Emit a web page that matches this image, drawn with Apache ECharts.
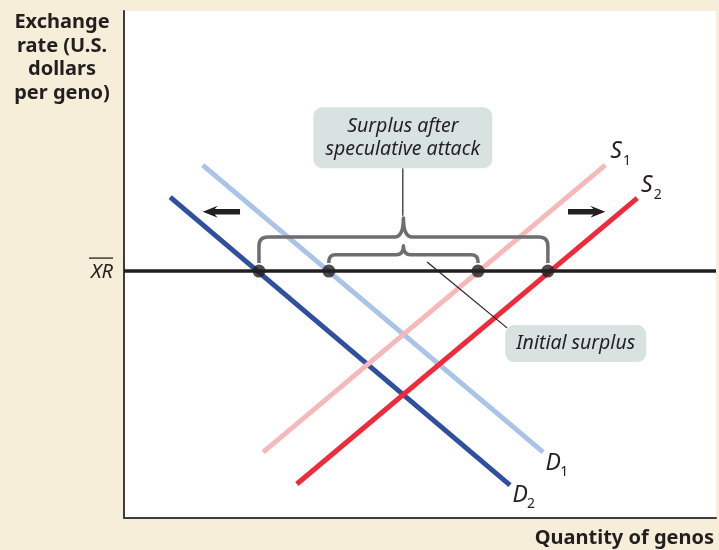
<!DOCTYPE html>
<html>
<head>
<meta charset="utf-8">
<script src="https://cdn.jsdelivr.net/npm/echarts@6/dist/echarts.min.js"></script>
<style>
  html, body { margin: 0; padding: 0; background: #f6eed9; }
  #chart { width: 719px; height: 550px; }
</style>
</head>
<body>
<div id="chart"></div>
<script>
// Chart units: x = quantity of genos (0-100), y = exchange rate (0-100)
const curveNames = ['D2', 'D1', 'S1', 'S2'];
const curveColors = ['#2f4f9f', '#a9c4e7', '#f6b9ba', '#ee2a3b'];
const curveX = [[7.8, 65.2], [13.3, 70.8], [23.5, 81.3], [29.2, 86.7]];
const curveY = [[63.3, 6.5], [69.6, 13.0], [13.0, 69.6], [6.7, 63.1]];
const curveLabelX = [66.9, 72.5, 83.1, 88.3];
const curveLabelY = [4.5, 10.8, 72.2, 65.5];

// fixed exchange rate and the points where it meets each curve
const fixedRate = 48.7;
const dotX = [22.8, 34.6, 59.8, 71.6];

// braces: outer = surplus after attack, inner = initial surplus
const braceLeft = [22.8, 34.6];
const braceRight = [71.6, 59.8];
const braceLevel = [55.4, 51.9];

// arrows showing the shift of the curves
const arrowFrom = [19.6, 75.0];
const arrowTo = [13.3, 81.3];
const arrowY = [60.4, 60.4];

// callout boxes
const boxText = ['Surplus after\nspeculative attack', 'Initial surplus'];
const boxX = [47.1, 76.3];
const boxY = [75.0, 34.4];
const leaderX = [[47.1, 47.1], [51.2, 64.7]];
const leaderY = [[69.0, 59.6], [50.5, 37.5]];

const ink = '#231f20';
const italicFont = 'italic 19.5px "Noto Sans"';
const titleFont = 'bold 20px "Noto Sans"';

const chart = echarts.init(document.getElementById('chart'));

const series = [];

// supply and demand curves
curveNames.forEach((name, i) => {
  series.push({
    name: name,
    type: 'line',
    data: [[curveX[i][0], curveY[i][0]], [curveX[i][1], curveY[i][1]]],
    symbol: 'none',
    lineStyle: { color: curveColors[i], width: 5 },
    z: 2
  });
});

// fixed exchange rate line
series.push({
  type: 'line',
  data: [[0, fixedRate], [100, fixedRate]],
  symbol: 'none',
  lineStyle: { color: ink, width: 3.5 },
  z: 3
});

// leader lines for the callouts
leaderX.forEach((xs, i) => {
  series.push({
    type: 'line',
    data: [[xs[0], leaderY[i][0]], [xs[1], leaderY[i][1]]],
    symbol: 'none',
    lineStyle: { color: ink, width: 1.2 },
    z: 4
  });
});

// intersection dots
series.push({
  type: 'scatter',
  data: dotX.map(x => [x, fixedRate]),
  symbolSize: 13,
  itemStyle: { color: ink },
  z: 6
});

// braces
series.push({
  type: 'custom',
  data: braceLeft.map((x, i) => [x, braceRight[i], braceLevel[i]]),
  renderItem: function (params, api) {
    const outer = params.dataIndex === 0;
    const l = api.coord([api.value(0), api.value(2)]);
    const r = api.coord([api.value(1), api.value(2)]);
    const yEnd = api.coord([0, fixedRate])[1] - 8;
    const yH = l[1];
    const xc = (l[0] + r[0]) / 2;
    const rad = outer ? 9 : 7;
    const peak = outer ? 19 : 9;
    const x0 = l[0], x1 = r[0];
    const path = 'M' + x0 + ',' + yEnd +
      ' L' + x0 + ',' + (yH + rad) +
      ' Q' + x0 + ',' + yH + ' ' + (x0 + rad) + ',' + yH +
      ' L' + (xc - rad) + ',' + yH +
      ' Q' + xc + ',' + yH + ' ' + xc + ',' + (yH - peak) +
      ' Q' + xc + ',' + yH + ' ' + (xc + rad) + ',' + yH +
      ' L' + (x1 - rad) + ',' + yH +
      ' Q' + x1 + ',' + yH + ' ' + x1 + ',' + (yH + rad) +
      ' L' + x1 + ',' + yEnd;
    return {
      type: 'path',
      shape: { pathData: path },
      style: { stroke: '#6d6e71', lineWidth: 3.5, fill: null, lineJoin: 'round' }
    };
  },
  z: 5
});

// arrows
series.push({
  type: 'custom',
  data: arrowFrom.map((x, i) => [x, arrowTo[i], arrowY[i]]),
  renderItem: function (params, api) {
    const a = api.coord([api.value(0), api.value(2)]);
    const b = api.coord([api.value(1), api.value(2)]);
    const dir = b[0] > a[0] ? 1 : -1;
    const tip = b[0], y = b[1], tail = a[0];
    const pts = [
      [tip, y],
      [tip - dir * 15, y - 6],
      [tip - dir * 12, y - 2.8],
      [tail, y - 2.8],
      [tail, y + 2.8],
      [tip - dir * 12, y + 2.8],
      [tip - dir * 15, y + 6]
    ];
    return { type: 'polygon', shape: { points: pts }, style: { fill: ink } };
  },
  z: 5
});

// callout boxes
series.push({
  type: 'custom',
  data: boxX.map((x, i) => [x, boxY[i]]),
  renderItem: function (params, api) {
    const p = api.coord([api.value(0), api.value(1)]);
    const w = params.dataIndex === 0 ? 179 : 141;
    const h = params.dataIndex === 0 ? 61 : 37;
    return {
      type: 'group',
      children: [
        {
          type: 'rect',
          shape: { x: p[0] - w / 2, y: p[1] - h / 2, width: w, height: h, r: 9 },
          style: { fill: '#d8e3e1' }
        },
        {
          type: 'text',
          style: {
            text: boxText[params.dataIndex],
            x: p[0], y: p[1],
            font: italicFont, lineHeight: 23,
            fill: ink, align: 'center', verticalAlign: 'middle'
          }
        }
      ]
    };
  },
  z: 7
});

// curve labels with subscripts
series.push({
  type: 'custom',
  data: curveLabelX.map((x, i) => [x, curveLabelY[i]]),
  renderItem: function (params, api) {
    const p = api.coord([api.value(0), api.value(1)]);
    const name = curveNames[params.dataIndex];
    return {
      type: 'group',
      children: [
        {
          type: 'text',
          style: { text: name[0], x: p[0], y: p[1], font: 'italic 23px "Noto Sans"', fill: ink, align: 'center', verticalAlign: 'middle' }
        },
        {
          type: 'text',
          style: { text: name.slice(1), x: p[0] + 7, y: p[1] + 9, font: '14px "Noto Sans"', fill: ink, align: 'left', verticalAlign: 'middle' }
        }
      ]
    };
  },
  z: 7
});

// XR label with overbar, left of the axis
series.push({
  type: 'custom',
  data: [[0, fixedRate]],
  renderItem: function (params, api) {
    const p = api.coord([api.value(0), api.value(1)]);
    const xr = p[0] - 11;
    return {
      type: 'group',
      children: [
        {
          type: 'text',
          style: { text: 'XR', x: xr, y: p[1] + 1, font: 'italic 20px "Noto Sans"', fill: ink, align: 'right', verticalAlign: 'middle' }
        },
        {
          type: 'line',
          shape: { x1: xr - 24, y1: p[1] - 13, x2: xr, y2: p[1] - 13 },
          style: { stroke: ink, lineWidth: 1.3 }
        }
      ]
    };
  },
  clip: false,
  z: 7
});

const option = {
  animation: false,
  backgroundColor: '#f6eed9',
  grid: {
    left: 124, right: 3, top: 11, bottom: 32,
    show: true, backgroundColor: '#ffffff', borderWidth: 0
  },
  xAxis: {
    type: 'value', min: 0, max: 100,
    axisLine: { show: true, lineStyle: { color: '#3d3d3d', width: 2 } },
    axisTick: { show: false }, axisLabel: { show: false }, splitLine: { show: false }
  },
  yAxis: {
    type: 'value', min: 0, max: 100,
    axisLine: { show: true, lineStyle: { color: '#3d3d3d', width: 2 } },
    axisTick: { show: false }, axisLabel: { show: false }, splitLine: { show: false }
  },
  graphic: [
    {
      type: 'text', x: 62, y: 11,
      style: {
        text: 'Exchange\nrate (U.S.\ndollars\nper geno)',
        font: titleFont, lineHeight: 23.5,
        fill: ink, align: 'center', verticalAlign: 'top'
      }
    },
    {
      type: 'text', x: 714, y: 538,
      style: { text: 'Quantity of genos', font: titleFont, fill: ink, align: 'right', verticalAlign: 'middle' }
    }
  ],
  series: series
};

chart.setOption(option);
</script>
</body>
</html>
